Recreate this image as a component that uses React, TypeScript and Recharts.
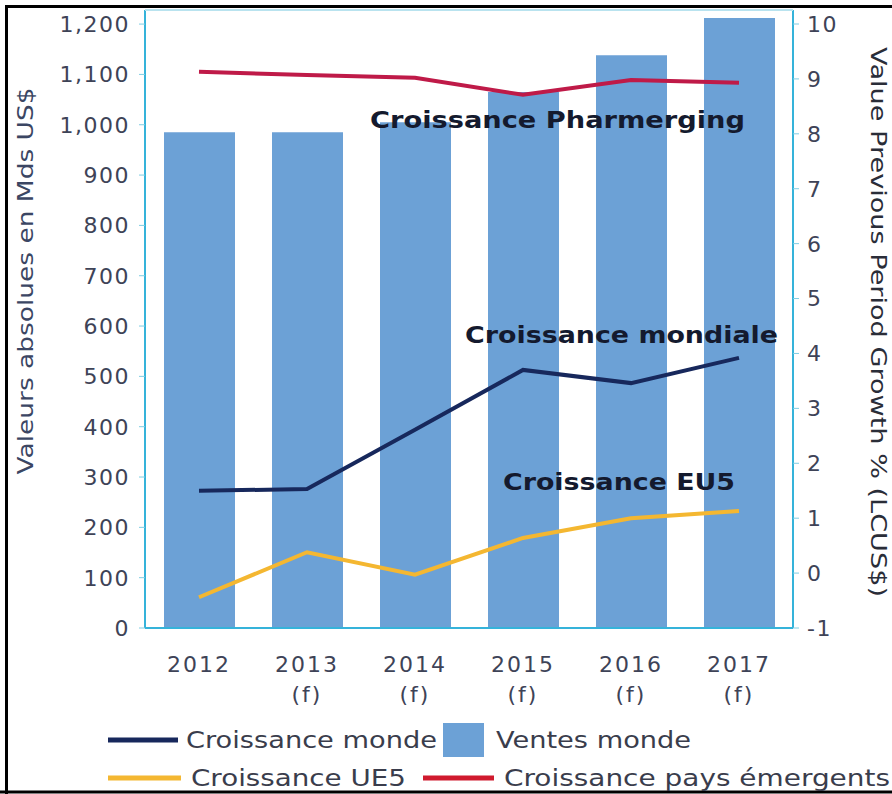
import React from "react";
import { ComposedChart, Bar, Line, XAxis, YAxis } from "recharts";

const years = ["2012", "2013", "2014", "2015", "2016", "2017"];
const yearNotes = ["", "(f)", "(f)", "(f)", "(f)", "(f)"];
const ventesMonde = [985, 985, 1005, 1065, 1138, 1212];
const croissanceMonde = [1.5, 1.53, 2.61, 3.7, 3.46, 3.92];
const croissanceUE5 = [-0.44, 0.38, -0.03, 0.64, 1.0, 1.13];
const croissanceEmergents = [9.13, 9.07, 9.02, 8.71, 8.98, 8.93];
const leftTicks = [0, 100, 200, 300, 400, 500, 600, 700, 800, 900, 1000, 1100, 1200];
const rightTicks = [-1, 0, 1, 2, 3, 4, 5, 6, 7, 8, 9, 10];

const data = years.map((y, i) => ({
  year: y,
  ventes: ventesMonde[i],
  monde: croissanceMonde[i],
  ue5: croissanceUE5[i],
  emergents: croissanceEmergents[i],
}));

const FONT = "'DejaVu Sans', Verdana, sans-serif";
const AXIS = "#35b3da";
const TICKTXT = "#3e4357";
const BAR = "#6ca1d6";
const NAVY = "#17285c";
const GOLD = "#f4b731";
const RED = "#bf1a48";

const fmt = (v: number) => v.toLocaleString("en-US");

const LeftTick = (props: any) => {
  const { x, y, payload } = props;
  return (
    <text x={x} y={y} dy="0.36em" textAnchor="end" fill={TICKTXT} fontSize={22} fontFamily={FONT} letterSpacing={1.5}>
      {fmt(payload.value)}
    </text>
  );
};

const RightTick = (props: any) => {
  const { x, y, payload } = props;
  return (
    <text x={x} y={y} dy="0.36em" textAnchor="start" fill={TICKTXT} fontSize={22} fontFamily={FONT} letterSpacing={1.5}>
      {payload.value}
    </text>
  );
};

const XTick = (props: any) => {
  const { x, y, payload } = props;
  const idx = years.indexOf(payload.value);
  const note = yearNotes[idx];
  return (
    <g>
      <text x={x} y={y + 36} textAnchor="middle" fill={TICKTXT} fontSize={22} fontFamily={FONT} letterSpacing={2}>
        {payload.value}
      </text>
      {note ? (
        <text x={x} y={y + 66} textAnchor="middle" fill={TICKTXT} fontSize={22} fontFamily={FONT} letterSpacing={2}>
          {note}
        </text>
      ) : null}
    </g>
  );
};

export default function App() {
  return (
    <div style={{ position: "absolute", left: 0, top: 0, width: 892, height: 794, background: "#fff" }}>
      <ComposedChart width={892} height={794} data={data} margin={{ top: 10, right: 0, bottom: 0, left: 0 }}>
        <XAxis
          dataKey="year"
          height={166}
          axisLine={{ stroke: AXIS, strokeWidth: 2 }}
          tickLine={false}
          tickMargin={2}
          tick={<XTick />}
          interval={0}
        />
        <YAxis
          yAxisId="left"
          orientation="left"
          width={145}
          domain={[0, 1228]}
          ticks={leftTicks}
          allowDataOverflow
          axisLine={{ stroke: AXIS, strokeWidth: 2 }}
          tickLine={{ stroke: "#7fcde3" }}
          tickSize={6}
          tickMargin={9}
          tick={<LeftTick />}
          interval={0}
        />
        <YAxis
          yAxisId="right"
          orientation="right"
          width={99}
          domain={[-1, 10.255]}
          ticks={rightTicks}
          allowDataOverflow
          axisLine={{ stroke: AXIS, strokeWidth: 2 }}
          tickLine={{ stroke: "#7fcde3" }}
          tickSize={6}
          tickMargin={8}
          tick={<RightTick />}
          interval={0}
        />
        <Bar yAxisId="left" dataKey="ventes" name="Ventes monde" fill={BAR} barSize={71} isAnimationActive={false} />
        <Line yAxisId="right" type="linear" dataKey="emergents" name="Croissance pays émergents" stroke={RED} strokeWidth={4} dot={false} isAnimationActive={false} />
        <Line yAxisId="right" type="linear" dataKey="monde" name="Croissance monde" stroke={NAVY} strokeWidth={4} dot={false} isAnimationActive={false} />
        <Line yAxisId="right" type="linear" dataKey="ue5" name="Croissance UE5" stroke={GOLD} strokeWidth={4} dot={false} isAnimationActive={false} />
      </ComposedChart>
      <svg width={892} height={794} style={{ position: "absolute", left: 0, top: 0, pointerEvents: "none" }}>
        {/* frame */}
        <path d="M6.5 794 V6.5 H892" fill="none" stroke="#000" strokeWidth={3} />
        <line x1={0} y1={792} x2={892} y2={792} stroke="#000" strokeWidth={3} />
        <line x1={145} y1={10} x2={793} y2={10} stroke="#b9e3ef" strokeWidth={2} />
        {/* axis titles */}
        <text
          transform="translate(25,281) rotate(-90)"
          textAnchor="middle"
          dominantBaseline="central"
          fill="#3b4663"
          fontSize={22}
          fontFamily={FONT}
          textLength={387}
          lengthAdjust="spacingAndGlyphs"
        >
          Valeurs absolues en Mds US$
        </text>
        <text
          transform="translate(878,322) rotate(90)"
          textAnchor="middle"
          dominantBaseline="central"
          fill="#2a2d38"
          fontSize={22}
          fontFamily={FONT}
          textLength={550}
          lengthAdjust="spacingAndGlyphs"
        >
          Value Previous Period Growth % (LCUS$)
        </text>
        {/* annotations */}
        <text x={370} y={120} dominantBaseline="central" fill="#141a2e" fontSize={23} fontWeight="bold" fontFamily={FONT} textLength={375} lengthAdjust="spacingAndGlyphs">
          Croissance Pharmerging
        </text>
        <text x={465} y={335} dominantBaseline="central" fill="#141a2e" fontSize={23} fontWeight="bold" fontFamily={FONT} textLength={313} lengthAdjust="spacingAndGlyphs">
          Croissance mondiale
        </text>
        <text x={503} y={482} dominantBaseline="central" fill="#141a2e" fontSize={23} fontWeight="bold" fontFamily={FONT} textLength={232} lengthAdjust="spacingAndGlyphs">
          Croissance EU5
        </text>
        {/* legend */}
        <line x1={108} y1={740} x2={178} y2={740} stroke={NAVY} strokeWidth={5} />
        <text x={186} y={740} dominantBaseline="central" fill="#3a3d4c" fontSize={23} fontFamily={FONT} textLength={251} lengthAdjust="spacingAndGlyphs">
          Croissance monde
        </text>
        <rect x={443} y={723} width={41} height={34} fill={BAR} />
        <text x={496} y={740} dominantBaseline="central" fill="#3a3d4c" fontSize={23} fontFamily={FONT} textLength={195} lengthAdjust="spacingAndGlyphs">
          Ventes monde
        </text>
        <line x1={108} y1={778} x2={181} y2={778} stroke={GOLD} strokeWidth={5} />
        <text x={191} y={778} dominantBaseline="central" fill="#3a3d4c" fontSize={23} fontFamily={FONT} textLength={215} lengthAdjust="spacingAndGlyphs">
          Croissance UE5
        </text>
        <line x1={423} y1={778} x2={494} y2={778} stroke="#d01a2e" strokeWidth={5} />
        <text x={504} y={778} dominantBaseline="central" fill="#3a3d4c" fontSize={23} fontFamily={FONT} textLength={386} lengthAdjust="spacingAndGlyphs">
          Croissance pays émergents
        </text>
      </svg>
    </div>
  );
}
